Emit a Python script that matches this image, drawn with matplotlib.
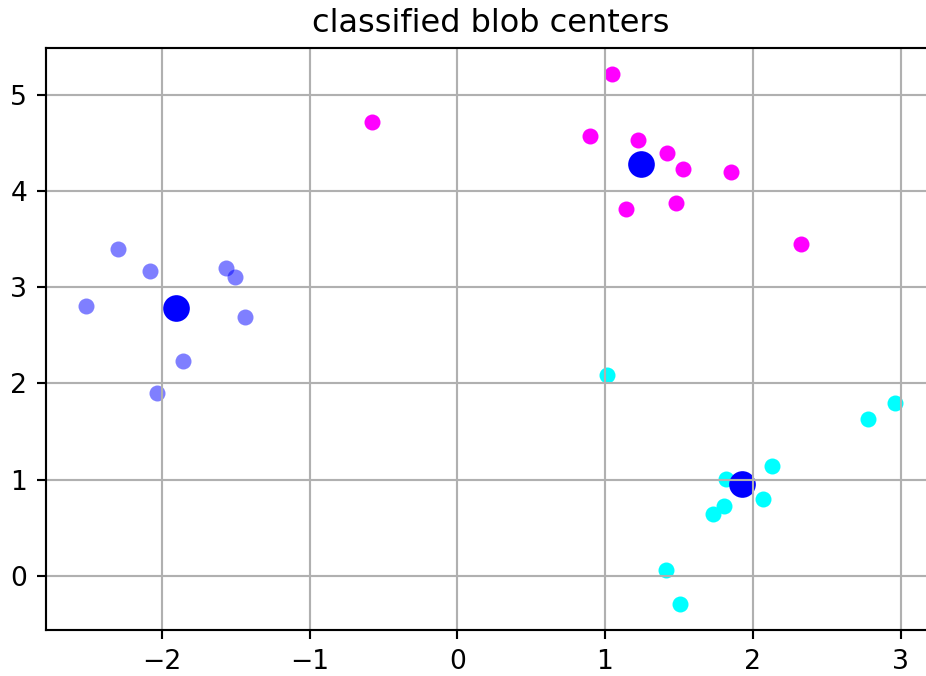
import matplotlib
matplotlib.use("Agg")
import matplotlib.pyplot as plt
import numpy as np

# blob centers per class
class0_x = [-2.295, -2.08, -1.563, -1.502, -2.51, -1.439, -1.853, -2.03]
class0_y = [3.40, 3.17, 3.20, 3.11, 2.81, 2.69, 2.23, 1.90]

class1_x = [1.045, 0.899, 1.225, 1.417, 1.529, 1.856, 1.142, 1.478, 2.324, -0.574]
class1_y = [5.215, 4.575, 4.53, 4.40, 4.235, 4.20, 3.81, 3.88, 3.45, 4.72]

class2_x = [1.016, 2.96, 2.78, 2.133, 1.822, 2.066, 1.806, 1.732, 1.412, 1.507]
class2_y = [2.088, 1.80, 1.635, 1.138, 1.009, 0.80, 0.73, 0.644, 0.063, -0.29]

# cluster centers
center_x = [-1.905, 1.243, 1.928]
center_y = [2.78, 4.287, 0.95]

dpi = 192
fig = plt.figure(figsize=(926 / dpi, 676 / dpi), dpi=dpi)
ax = fig.add_axes([46 / 926, 46 / 676, 889 / 926, 582 / 676])

ax.scatter(class0_x, class0_y, color="blue", alpha=0.5, linewidths=0)
ax.scatter(class1_x, class1_y, color="magenta", linewidths=0)
ax.scatter(class2_x, class2_y, color="cyan", linewidths=0)
ax.scatter(center_x, center_y, color="blue", s=100, linewidths=0)

ax.set_title("classified blob centers")
ax.grid(True)

fig.savefig("out.png", dpi=dpi)
